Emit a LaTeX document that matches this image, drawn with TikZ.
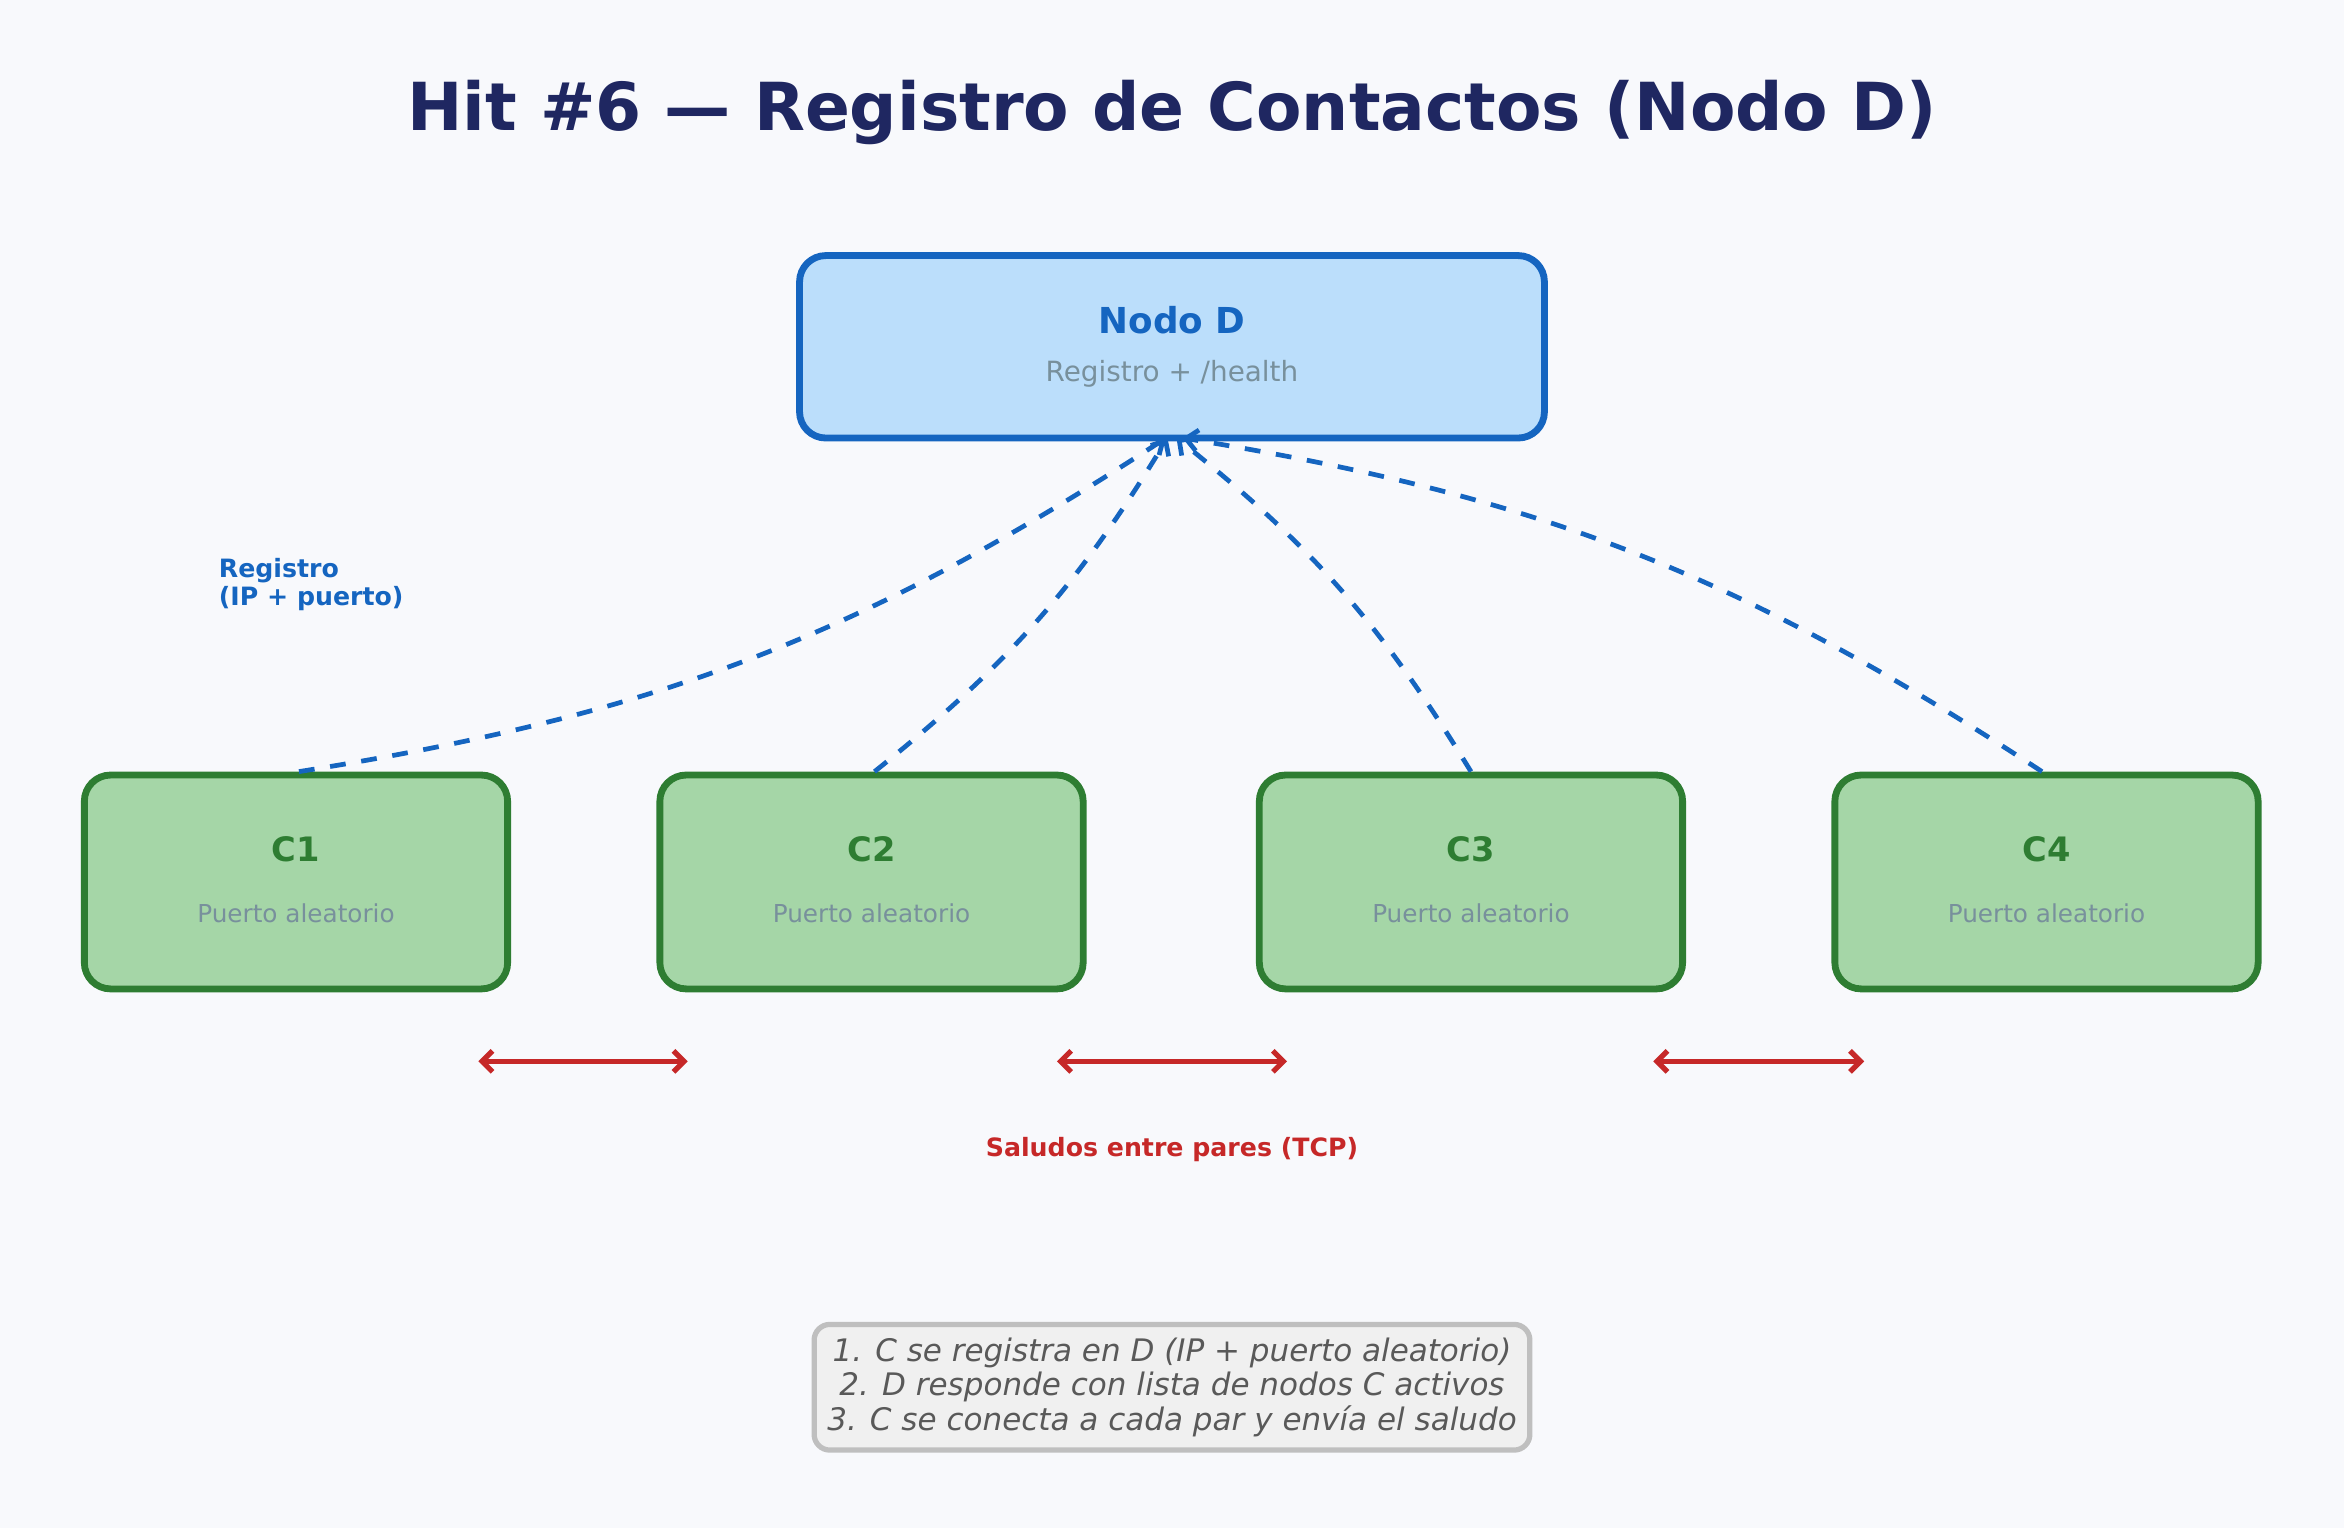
\documentclass[tikz,border=0pt]{standalone}
\usepackage{fontspec}
\setmainfont{DejaVu Sans}
\usetikzlibrary{arrows.meta}
\definecolor{bg}{HTML}{F8F9FC}
\definecolor{navy}{HTML}{1F2761}
\definecolor{dblue}{HTML}{1565C0}
\definecolor{lblue}{HTML}{BBDEFB}
\definecolor{dgreen}{HTML}{2E7D32}
\definecolor{lgreen}{HTML}{A5D6A7}
\definecolor{red1}{HTML}{C62828}
\definecolor{gtext}{HTML}{78909C}
\begin{document}
\begin{tikzpicture}[x=0.01cm,y=-0.01cm,
 cbox/.style={draw=dgreen,fill=lgreen,line width=1.3pt,rounded corners=5pt,minimum width=2.83cm,minimum height=1.43cm},
 reg/.style={dblue,line width=0.9pt,dashed,-{Straight Barb[length=2.2pt,width=4pt]}},
 pair/.style={red1,line width=1pt,{Straight Barb[length=2pt,width=4pt]}-{Straight Barb[length=2pt,width=4pt]}}]
\fill[bg] (0,0) rectangle (1568,1022);
\useasboundingbox (0,0) rectangle (1568,1022);
\node[navy,font=\bfseries\fontsize{12.6}{15}\selectfont] (title) at (784,75) {Hit \#6 — Registro de Contactos (Nodo D)};
\node[draw=dblue,fill=lblue,line width=1.3pt,rounded corners=5pt,minimum width=4.98cm,minimum height=1.22cm] (d) at (784,232) {};
\node[dblue,font=\bfseries\fontsize{6.8}{8}\selectfont] (dt) at (784,214) {Nodo D};
\node[gtext,font=\fontsize{5.3}{6}\selectfont] (ds) at (784,250) {Registro + /health};
\foreach \n/\x in {1/198,2/583,3/984,4/1369}{
 \node[cbox] (c\n) at (\x,590) {};
 \node[dgreen,font=\bfseries\fontsize{6.4}{8}\selectfont] (c\n t) at (\x,568) {C\n};
 \node[gtext,font=\fontsize{4.7}{6}\selectfont] (c\n s) at (\x,611) {Puerto aleatorio};
}
\coordinate (d1) at (780,293); \coordinate (d2) at (781,293);
\coordinate (d3) at (787,293); \coordinate (d4) at (791,293);
\draw[reg] ([xshift=0.02cm]c1.north) to[bend right=12] (d1);
\draw[reg] ([xshift=0.02cm]c2.north) to[bend right=10] (d2);
\draw[reg] (c3.north) to[bend right=10] (d3);
\draw[reg] ([xshift=-0.03cm]c4.north) to[bend right=12] (d4);
\node[dblue,font=\bfseries\fontsize{4.8}{5.2}\selectfont,align=left,anchor=west] (rl) at (134,391) {Registro\\(IP + puerto)};
\coordinate (p1a) at (320,710); \coordinate (p1b) at (460,710);
\coordinate (p2a) at (707,710); \coordinate (p2b) at (861,710);
\coordinate (p3a) at (1106,710); \coordinate (p3b) at (1247,710);
\draw[pair] (p1a) -- (p1b);
\draw[pair] (p2a) -- (p2b);
\draw[pair] (p3a) -- (p3b);
\node[red1,font=\bfseries\fontsize{4.8}{6}\selectfont] (sl) at (784,769) {Saludos entre pares (TCP)};
\node[draw=gray!50,fill=gray!12,line width=1pt,rounded corners=3pt,inner sep=2.5pt,align=center,text=black!65,font=\itshape\fontsize{5.9}{6.6}\selectfont] (notes) at (784,928)
 {1. C se registra en D (IP + puerto aleatorio)\\2. D responde con lista de nodos C activos\\3. C se conecta a cada par y envía el saludo};
\end{tikzpicture}
\end{document}
